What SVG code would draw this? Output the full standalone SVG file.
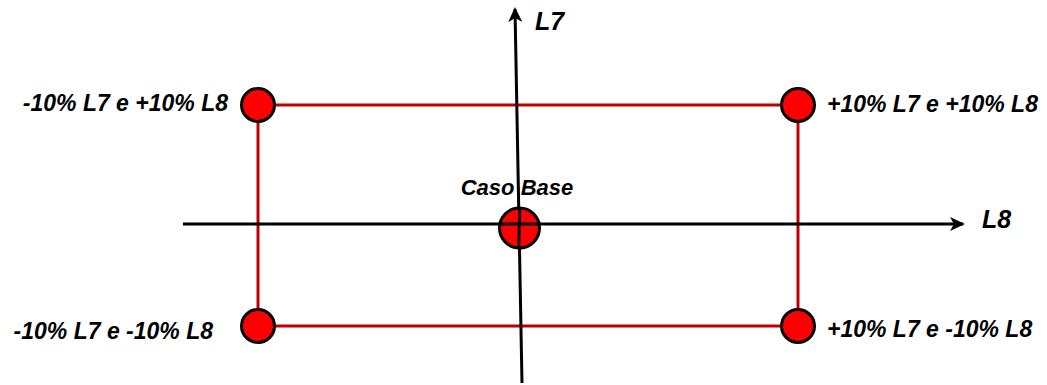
<svg xmlns="http://www.w3.org/2000/svg" width="1047" height="385" viewBox="0 0 1047 385">
<style>
.lbl{font-family:"Liberation Sans",Arial,sans-serif;font-weight:bold;font-style:italic;font-size:23px;fill:#000}
.ax{font-family:"Liberation Sans",Arial,sans-serif;font-weight:bold;font-style:italic;font-size:25px;fill:#000}
.edge{stroke:#c00000;stroke-width:3;fill:none}
.axis{stroke:#000;stroke-width:3;fill:none}
.pt{fill:#ff0000;stroke:#000;stroke-width:3}
</style>
<defs>
<marker id="arr" markerWidth="15" markerHeight="14" refX="13" refY="7" orient="auto" markerUnits="userSpaceOnUse">
<path d="M0,0 L15,7 L0,14 L4,7 Z" fill="#000"/>
</marker>
</defs>
<g id="connectors">
<line class="edge" x1="258" y1="105" x2="798" y2="105"/>
<line class="edge" x1="258" y1="326" x2="798" y2="326"/>
<line class="edge" x1="258" y1="105" x2="258" y2="326"/>
<line class="edge" x1="798" y1="105" x2="798" y2="326"/>
<line class="axis" x1="183" y1="224" x2="963" y2="224" marker-end="url(#arr)"/>
<line class="axis" x1="522" y1="383" x2="515" y2="9" marker-end="url(#arr)"/>
</g>
<g id="axis-L7"><text class="ax" x="535" y="30">L7</text></g>
<g id="axis-L8"><text class="ax" x="982" y="228">L8</text></g>
<g id="n-tl"><circle class="pt" cx="258" cy="105" r="16.5"/><text class="lbl" x="228" y="111" text-anchor="end">-10% L7 e +10% L8</text></g>
<g id="n-tr"><circle class="pt" cx="798" cy="105" r="16.5"/><text class="lbl" x="827" y="112">+10% L7 e +10% L8</text></g>
<g id="n-bl"><circle class="pt" cx="258" cy="326" r="16.5"/><text class="lbl" x="213" y="339" text-anchor="end">-10% L7 e -10% L8</text></g>
<g id="n-br"><circle class="pt" cx="798" cy="326" r="16.5"/><text class="lbl" x="827" y="337">+10% L7 e -10% L8</text></g>
<g id="n-base"><circle class="pt" cx="519.5" cy="228" r="20"/><line class="axis" x1="498" y1="224" x2="541" y2="224"/><line class="axis" x1="519.8" y1="208" x2="518.8" y2="248"/><text class="lbl" x="517" y="195" text-anchor="middle" style="font-size:22px">Caso Base</text></g>
</svg>
